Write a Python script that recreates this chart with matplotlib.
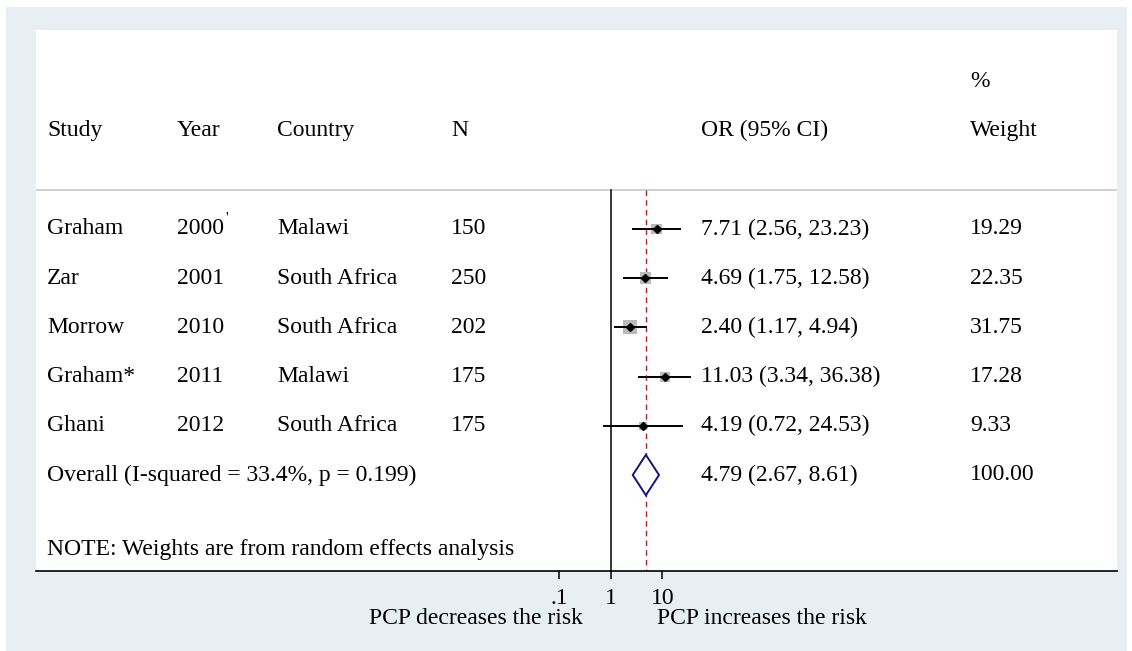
import matplotlib
matplotlib.use("Agg")
import matplotlib.pyplot as plt
from matplotlib.patches import Rectangle, Polygon
from matplotlib.transforms import blended_transform_factory
import numpy as np

# ---- data -------------------------------------------------------------
studies = ["Graham", "Zar", "Morrow", "Graham*", "Ghani"]
years = ["2000", "2001", "2010", "2011", "2012"]
countries = ["Malawi", "South Africa", "South Africa", "Malawi", "South Africa"]
sizes = ["150", "250", "202", "175", "175"]
odds_ratio = [7.71, 4.69, 2.40, 11.03, 4.19]
ci_low = [2.56, 1.75, 1.17, 3.34, 0.72]
ci_high = [23.23, 12.58, 4.94, 36.38, 24.53]
weights = [19.29, 22.35, 31.75, 17.28, 9.33]

overall_or = 4.79
overall_low = 2.67
overall_high = 8.61
overall_label = "Overall (I-squared = 33.4%, p = 0.199)"
note_label = "NOTE: Weights are from random effects analysis"

tick_values = [0.1, 1, 10]
tick_labels = [".1", "1", "10"]
left_caption = "PCP decreases the risk"
right_caption = "PCP increases the risk"

# ---- layout helpers (pixel based) --------------------------------------
W, H = 1132, 651
DPI = 100
FONT = "Liberation Serif"
FS = 17

fig = plt.figure(figsize=(W / DPI, H / DPI), dpi=DPI, facecolor="white")

# light panel behind the plot region
fig.patches.append(Rectangle((6 / W, 0), 1121 / W, (H - 7) / H,
                             transform=fig.transFigure, facecolor="#E8EFF2",
                             edgecolor="none", zorder=-10))

ax_l, ax_r, ax_t, ax_b = 36, 1117, 30, 571
ax = fig.add_axes([ax_l / W, (H - ax_b) / H, (ax_r - ax_l) / W, (ax_b - ax_t) / H])
ax.set_facecolor("white")
ax.set_zorder(1)

# log x-axis: value 1 sits at x=610.7 px, one decade spans 51.7 px
x_one, decade = 610.7, 51.7
ax.set_xscale("log")
ax.set_xlim(10 ** ((ax_l - x_one) / decade), 10 ** ((ax_r - x_one) / decade))

# rows: first study at y=229 px, 49.2 px per row
row0, row_h = 229, 49.2
ax.set_ylim((ax_b - row0) / row_h, (ax_t - row0) / row_h)

def fx(px):
    return px / W

tr = blended_transform_factory(fig.transFigure, ax.transData)

for side in ["top", "left", "right"]:
    ax.spines[side].set_visible(False)
ax.spines["bottom"].set_linewidth(1.2)
ax.set_yticks([])
ax.set_xticks(tick_values, tick_labels)
ax.minorticks_off()
ax.tick_params(axis="x", direction="out", length=6, width=1.1, pad=6,
               labelsize=FS)
for lab in ax.get_xticklabels():
    lab.set_fontfamily(FONT)

line_row = (190 - row0) / row_h
ybottom = ax.get_ylim()[0]

# header separator and reference lines
ax.axhline(line_row, color="#C8C8C8", lw=1.2, zorder=1)
ax.plot([1, 1], [line_row, ybottom], color="black", lw=1.1, zorder=2,
        clip_on=False)
ax.plot([overall_or, overall_or], [line_row, ybottom], color="#B0252D",
        lw=1.0, dashes=(4, 3), zorder=2)

# study estimates: weighted squares, CI lines and point markers
rows = np.arange(len(studies))
for r, o, lo, hi in zip(rows, odds_ratio, ci_low, ci_high):
    ax.plot([lo, hi], [r, r], color="black", lw=1.4, zorder=4,
            solid_capstyle="butt")
ax.scatter(odds_ratio, rows, marker="s", s=3.11 * np.array(weights),
           color="#BABABA", linewidths=0, zorder=3)
ax.plot(odds_ratio, rows, linestyle="none", marker="D", markersize=4.2,
        color="black", zorder=5)

# pooled estimate diamond
r_all = len(studies)
dh = 0.41
ax.add_patch(Polygon([(overall_low, r_all), (overall_or, r_all - dh),
                      (overall_high, r_all), (overall_or, r_all + dh)],
                     closed=True, facecolor="white", edgecolor="#14147A",
                     lw=1.4, zorder=4))

# ---- text columns -------------------------------------------------------
txt = dict(fontsize=FS, fontfamily=FONT, va="center", ha="left",
           transform=tr, color="black")
col_x = {"study": 47, "year": 177, "country": 277, "n": 451,
         "or": 701, "weight": 970}

hdr = -2
ax.text(fx(col_x["study"]), hdr, "Study", **txt)
ax.text(fx(col_x["year"]), hdr, "Year", **txt)
ax.text(fx(col_x["country"]), hdr, "Country", **txt)
ax.text(fx(col_x["n"]), hdr, "N", **txt)
ax.text(fx(col_x["or"]), hdr, "OR (95% CI)", **txt)
ax.text(fx(col_x["weight"]), hdr, "Weight", **txt)
ax.text(fx(col_x["weight"]), hdr - 1, "%", **txt)

for r in rows:
    ax.text(fx(col_x["study"]), r, studies[r], **txt)
    ax.text(fx(col_x["year"]), r, years[r], **txt)
    ax.text(fx(col_x["country"]), r, countries[r], **txt)
    ax.text(fx(col_x["n"]), r, sizes[r], **txt)
    ax.text(fx(col_x["or"]), r,
            f"{odds_ratio[r]:.2f} ({ci_low[r]:.2f}, {ci_high[r]:.2f})", **txt)
    ax.text(fx(col_x["weight"]), r, f"{weights[r]:.2f}", **txt)

# small prime mark after the first year
ax.text(fx(225), -0.22, "'", fontsize=11, fontfamily=FONT, va="center",
        ha="left", transform=tr)

ax.text(fx(col_x["study"]), r_all, overall_label, **txt)
ax.text(fx(col_x["or"]), r_all,
        f"{overall_or:.2f} ({overall_low:.2f}, {overall_high:.2f})", **txt)
ax.text(fx(col_x["weight"]), r_all, f"{sum(weights):.2f}", **txt)

ax.text(fx(col_x["study"]), (549 - row0) / row_h, note_label, **txt)

# captions under the axis
ax.text(fx(583), 1 - 618 / H, left_caption, fontsize=FS, fontfamily=FONT,
        ha="right", va="center", transform=fig.transFigure)
ax.text(fx(657), 1 - 618 / H, right_caption, fontsize=FS, fontfamily=FONT,
        ha="left", va="center", transform=fig.transFigure)

fig.savefig("out.png", dpi=DPI, facecolor="white")
